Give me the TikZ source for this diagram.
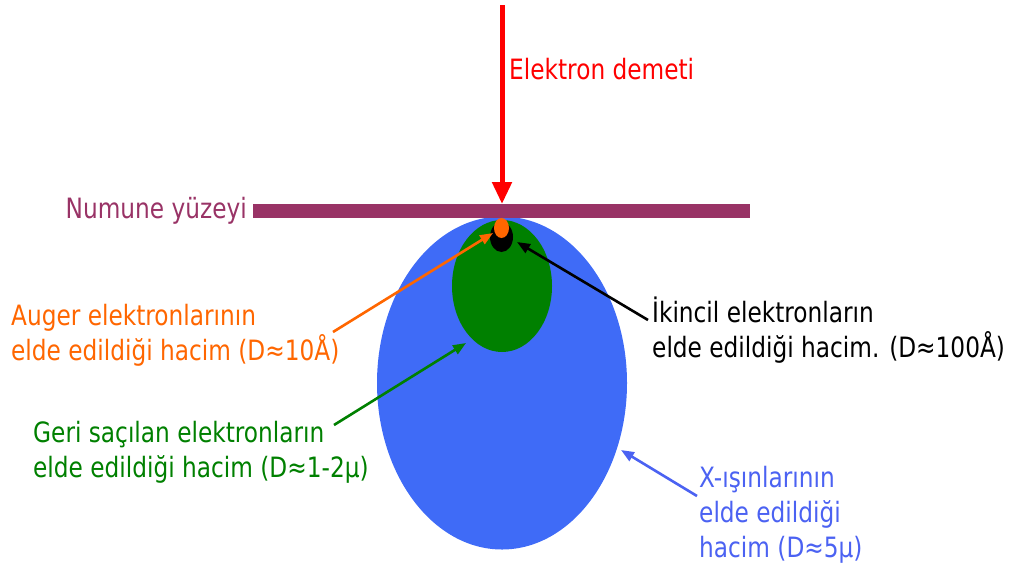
\documentclass[tikz,border=0pt]{standalone}
\usepackage{fontspec}
\setmainfont[FakeStretch=0.83]{DejaVu Sans}
\usetikzlibrary{arrows.meta,shapes.geometric}
\definecolor{beamred}{HTML}{FF0000}
\definecolor{surfpurple}{HTML}{993366}
\definecolor{augor}{HTML}{FF6600}
\definecolor{bsgreen}{HTML}{008000}
\definecolor{xblue}{HTML}{3F6BF7}
\definecolor{xtext}{HTML}{4B62F2}
\tikzset{
  vol/.style={ellipse, inner sep=0pt, draw=none},
  lbl/.style={font=\fontsize{28}{35}\selectfont, align=left, inner sep=0pt},
  ptr/.style={line width=2.6pt, -{Triangle[length=13pt,width=10pt]}},
}
\begin{document}
\begin{tikzpicture}[x=1pt,y=1pt]
\useasboundingbox (0,0) rectangle (1011,-574);
% volumes
\node[vol, fill=xblue, minimum width=250, minimum height=333] (xray) at (502,-383) {};
\node[vol, fill=bsgreen, minimum width=100, minimum height=132] (back) at (502,-286) {};
\node[vol, fill=black, minimum width=23, minimum height=30] (sec) at (501.5,-237) {};
\node[vol, fill=augor, minimum width=15, minimum height=20] (aug) at (501.5,-228) {};
% surface
\node[fill=surfpurple, minimum width=497, minimum height=14, inner sep=0pt] (surf) at (501.5,-211) {};
% beam
\coordinate (beamtop) at (502,-5);
\coordinate (beamtip) at (502,-204);
\draw[beamred, line width=5pt, -{Triangle[length=22pt,width=19pt]}] (beamtop) -- (beamtip);
% labels
\node[lbl, text=beamred, anchor=west] (beamlbl) at (509,-69) {Elektron demeti};
\node[lbl, text=surfpurple, anchor=east] (surflbl) at (247,-211) {Numune yüzeyi};
\node[lbl, text=augor, anchor=west] (auglbl) at (11,-335) {Auger elektronlarının\\elde edildiği hacim (D≈10Å)};
\node[lbl, text=bsgreen, anchor=west] (backlbl) at (33,-452) {Geri saçılan elektronların\\elde edildiği hacim (D≈1-2μ)};
\node[lbl, text=black, anchor=west] (seclbl) at (652,-330) {İkincil elektronların\\elde edildiği hacim. (D≈100Å)};
\node[lbl, text=xtext, anchor=west] (xlbl) at (699,-515) {X-ışınlarının\\elde edildiği\\hacim (D≈5μ)};
% pointers
\coordinate (augs) at (333,-332);
\coordinate (auge) at (493,-233);
\coordinate (backs) at (334,-425);
\coordinate (backe) at (466,-343);
\coordinate (secs) at (648,-320);
\coordinate (sece) at (517,-242);
\coordinate (xs) at (697,-496);
\coordinate (xe) at (621,-450);
\draw[ptr, augor] (augs) -- (auge);
\draw[ptr, bsgreen] (backs) -- (backe);
\draw[ptr, black] (secs) -- (sece);
\draw[ptr, xtext] (xs) -- (xe);
\end{tikzpicture}
\end{document}
